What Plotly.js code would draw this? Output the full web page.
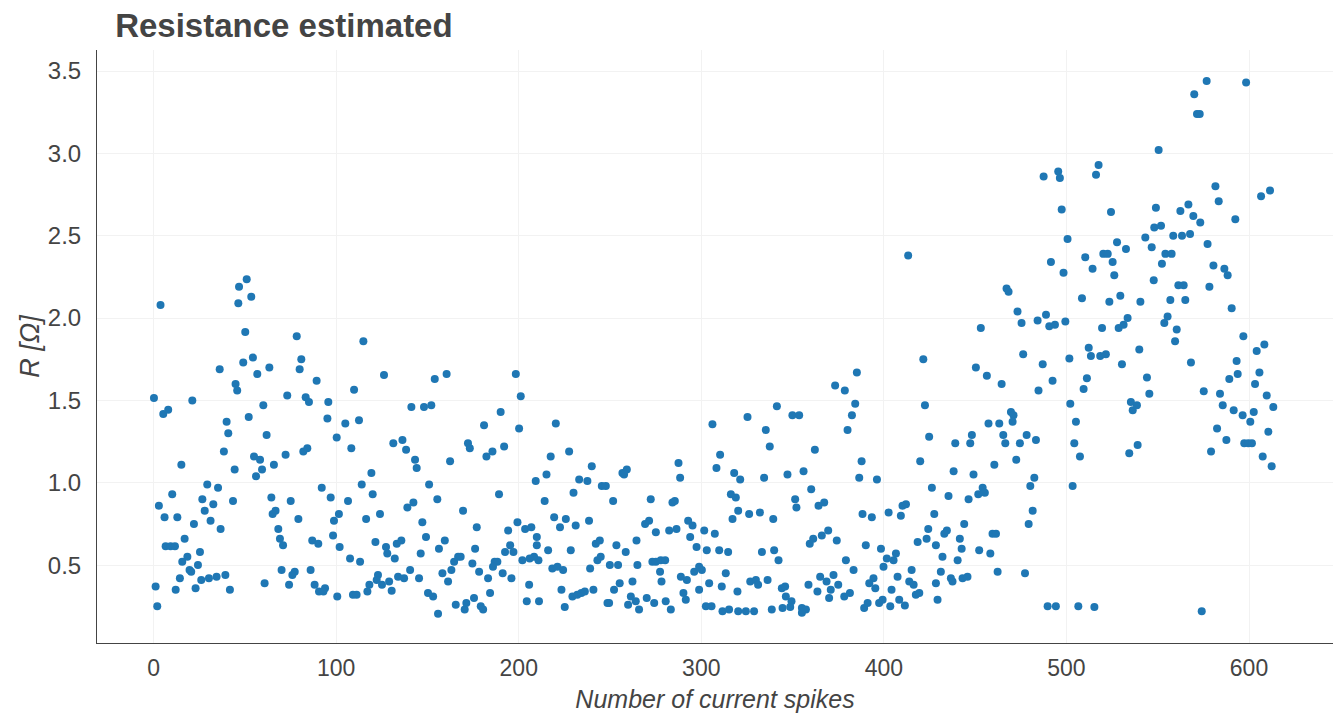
<!DOCTYPE html>
<html>
<head>
<meta charset="utf-8">
<script src="https://cdn.plot.ly/plotly-3.0.1.min.js"></script>
<style>html,body{margin:0;padding:0;background:#fff;}#chart{width:1339px;height:713px;}</style>
</head>
<body>
<div id="chart"></div>
<script>
// Spike number (x) for each estimate
const spikeNumber = [
 3.8,0.2,21.2,5.3,8.0,36.2,46.8,46.4,44.9,45.8,40.0,40.9,38.5,44.4,15.2,29.4,35.3,10.2,26.7,43.5,2.9,32.7,28.0,6.0,13.0,31.2,22.1,36.7,17.0,6.6,9.3,11.7,25.4,18.5,15.7,24.3,19.7,20.6,14.4,26.1,30.3,34.5,39.3,1.1,12.1,23.0,41.8,2.0,
 51.0,53.5,50.2,49.1,54.4,56.8,63.4,60.1,52.1,61.9,55.0,58.3,59.4,56.1,65.9,72.3,78.4,80.9,80.0,89.3,73.2,83.3,85.1,95.7,95.2,100.3,82.0,84.2,92.1,97.0,64.5,75.1,66.8,65.2,79.3,98.8,101.5,68.3,69.2,70.9,98.3,101.9,86.9,90.2,70.1,77.3,76.0,86.0,60.8,74.2,88.2,90.6,93.9,93.0,100.6,
 114.9,126.2,154.0,109.8,141.2,148.1,152.1,105.0,112.5,108.3,131.3,136.3,138.3,143.2,144.1,119.3,114.0,120.0,150.9,155.4,106.5,116.4,124.0,139.0,142.3,147.2,149.2,121.5,127.3,128.0,133.2,135.7,132.1,146.3,156.3,107.6,113.1,122.9,122.2,125.1,129.0,118.2,117.1,130.4,133.9,137.2,140.5,145.4,150.3,153.1,109.2,111.2,155.8,
 160.5,198.4,201.1,200.2,190.1,181.0,172.2,173.2,182.3,185.6,192.0,162.4,209.3,189.2,169.5,177.0,199.3,194.2,203.5,206.9,209.9,159.5,176.1,195.3,192.5,197.1,209.9,210.8,164.6,166.8,168.2,174.6,186.8,188.3,185.9,202.0,208.4,206.0,158.2,161.3,163.1,178.3,183.2,191.2,196.0,205.7,184.3,165.5,170.4,171.3,175.5,179.2,180.5,204.4,211.1,
 220.3,217.5,227.6,240.0,215.2,233.1,237.6,256.8,259.2,257.7,245.5,247.7,230.0,251.7,214.2,219.4,225.8,222.6,231.2,238.5,242.2,244.4,253.5,258.6,264.5,216.1,228.5,243.1,244.9,218.4,221.2,224.3,239.1,249.9,254.4,265.0,223.4,229.4,232.1,234.3,236.2,240.9,225.2,252.2,255.3,262.3,261.4,259.9,264.1,248.6,249.5,265.9,
 306.1,310.3,308.3,318.0,321.3,287.5,288.4,272.3,284.2,285.5,316.2,318.9,320.2,271.4,269.2,292.8,295.2,317.1,275.1,282.4,286.4,293.9,301.6,307.4,297.4,303.0,309.8,314.7,273.2,275.1,277.8,280.2,277.4,278.2,288.8,292.1,296.1,298.8,300.3,313.4,304.3,311.2,298.8,290.2,291.5,270.1,274.2,280.5,283.3,302.5,305.6,311.6,315.2,320.2,319.8,
 373.3,341.4,325.3,349.9,353.6,335.3,337.5,362.2,334.4,347.2,356.0,360.2,351.4,352.1,326.2,332.1,339.4,364.2,367.3,359.4,361.3,366.0,369.5,374.2,333.2,339.9,342.3,326.8,329.9,331.1,336.3,344.1,345.9,346.3,349.4,358.7,365.1,368.6,372.4,363.6,370.9,370.0,375.0,324.4,328.9,338.6,344.5,348.7,355.1,357.3,355.1,
 413.3,421.6,385.2,378.6,384.3,382.5,380.1,422.5,424.8,387.8,419.9,386.5,396.2,426.3,410.2,412.1,402.6,388.3,393.4,409.3,427.6,424.3,418.5,423.4,428.5,390.1,398.4,401.6,405.3,406.6,399.8,379.2,383.4,407.5,415.2,413.9,416.3,394.3,392.0,395.3,404.2,378.3,381.4,417.5,419.4,428.5,429.4,389.2,391.1,397.4,399.3,403.5,408.4,411.5,
 467.2,468.3,473.2,453.1,475.4,484.2,476.3,450.4,456.4,464.5,484.7,469.6,471.0,470.5,463.2,457.3,448.2,447.3,439.1,465.4,466.5,474.5,478.2,483.3,472.5,460.5,438.2,449.1,482.4,480.2,454.1,451.7,455.3,435.4,446.4,481.5,479.3,444.0,434.5,433.1,459.5,461.4,441.6,442.6,452.2,458.3,432.1,440.4,431.2,436.7,437.6,443.1,445.8,462.3,477.3,
 517.6,516.2,487.5,495.5,496.4,497.4,524.4,500.6,527.7,532.6,491.5,510.3,520.2,522.6,525.3,514.3,498.4,526.2,508.5,523.5,529.5,540.5,488.8,490.6,493.7,499.4,519.5,528.6,531.3,533.5,512.2,513.4,518.5,521.6,501.6,539.9,487.0,530.4,492.4,511.2,509.4,502.1,505.2,504.3,507.4,503.4,535.3,536.3,538.6,534.4,539.0,489.7,494.2,506.5,515.3,
 576.8,570.0,571.5,573.0,550.5,581.6,583.4,549.0,566.8,562.4,569.5,573.3,592.5,551.8,548.1,543.2,558.5,563.3,567.7,546.7,577.3,554.2,557.6,552.3,580.5,586.5,588.3,547.8,561.3,564.2,578.3,556.9,565.1,590.5,555.4,553.6,560.4,559.5,568.2,593.2,593.8,589.2,544.1,545.4,575.2,584.1,585.6,591.6,582.5,587.6,579.2,574.1,
 598.4,606.6,611.5,596.9,604.2,608.4,605.7,603.3,609.7,613.3,596.5,602.6,600.7,610.6,597.4,599.6,601.6,607.5,612.4
];
// Estimated resistance R [Ohm] for each point above
const resistance = [
 2.08,1.515,1.50,1.417,1.443,1.69,2.19,2.09,1.60,1.56,1.37,1.30,1.19,1.08,1.11,0.99,0.97,0.93,0.90,0.89,0.86,0.87,0.83,0.79,0.79,0.77,0.75,0.72,0.66,0.615,0.615,0.615,0.58,0.55,0.52,0.50,0.47,0.46,0.42,0.41,0.42,0.43,0.44,0.37,0.35,0.36,0.35,0.25,
 2.236,2.13,1.915,1.73,1.76,1.66,1.70,1.47,1.40,1.29,1.16,1.14,1.08,1.04,1.11,1.17,1.89,1.75,1.69,1.62,1.53,1.52,1.49,1.49,1.39,1.275,1.19,1.21,0.97,0.91,0.91,0.89,0.83,0.81,0.78,0.77,0.81,0.72,0.66,0.62,0.68,0.61,0.65,0.63,0.47,0.46,0.44,0.47,0.39,0.38,0.38,0.34,0.36,0.34,0.31,
 1.86,1.655,1.63,1.565,1.46,1.46,1.47,1.36,1.38,1.21,1.24,1.26,1.20,1.14,1.09,1.06,0.99,0.93,0.99,0.90,0.89,0.78,0.81,0.85,0.88,0.76,0.67,0.64,0.61,0.57,0.63,0.65,0.54,0.57,0.60,0.54,0.52,0.44,0.41,0.38,0.40,0.38,0.34,0.345,0.43,0.42,0.47,0.42,0.33,0.31,0.32,0.32,0.205,
 1.66,1.66,1.525,1.33,1.43,1.35,1.24,1.21,1.16,1.19,1.22,1.13,1.01,0.93,0.83,0.73,0.76,0.71,0.72,0.73,0.67,0.65,0.60,0.62,0.58,0.58,0.62,0.53,0.52,0.55,0.55,0.51,0.52,0.52,0.49,0.53,0.55,0.54,0.45,0.40,0.47,0.46,0.42,0.45,0.42,0.38,0.33,0.26,0.23,0.27,0.30,0.25,0.23,0.28,0.28,
 1.36,1.16,1.19,1.10,1.05,1.02,1.01,1.06,1.08,1.05,0.98,0.98,0.94,0.89,0.89,0.79,0.78,0.73,0.74,0.77,0.63,0.65,0.62,0.58,0.65,0.59,0.59,0.53,0.55,0.48,0.49,0.47,0.48,0.50,0.50,0.50,0.35,0.31,0.32,0.33,0.34,0.35,0.245,0.35,0.39,0.40,0.31,0.26,0.28,0.27,0.27,0.23,
 1.356,1.17,1.09,1.06,1.02,1.12,1.03,0.90,0.88,0.89,0.93,0.91,0.83,0.77,0.75,0.77,0.74,0.78,0.70,0.71,0.72,0.67,0.71,0.69,0.61,0.59,0.59,0.58,0.52,0.52,0.53,0.53,0.46,0.40,0.43,0.41,0.46,0.49,0.47,0.45,0.39,0.37,0.35,0.33,0.29,0.30,0.27,0.28,0.23,0.25,0.25,0.22,0.23,0.22,0.34,
 1.59,1.465,1.40,1.41,1.41,1.32,1.22,1.20,1.03,1.05,1.07,0.96,0.90,0.85,0.81,0.82,0.78,0.86,0.88,0.63,0.66,0.68,0.71,0.65,0.58,0.59,0.53,0.40,0.41,0.38,0.41,0.36,0.37,0.31,0.28,0.38,0.43,0.40,0.44,0.34,0.35,0.30,0.38,0.22,0.22,0.23,0.24,0.245,0.24,0.23,0.21,
 2.38,1.75,1.67,1.56,1.48,1.41,1.32,1.47,1.28,1.13,1.13,1.03,1.02,0.97,0.86,0.87,0.82,0.81,0.79,0.80,0.81,0.72,0.64,0.66,0.62,0.62,0.60,0.54,0.53,0.57,0.49,0.53,0.47,0.43,0.47,0.40,0.38,0.42,0.39,0.36,0.35,0.31,0.33,0.32,0.33,0.39,0.29,0.24,0.27,0.27,0.29,0.25,0.29,0.255,
 2.18,2.16,2.04,1.94,1.97,1.985,1.78,1.70,1.65,1.60,1.56,1.43,1.41,1.37,1.36,1.36,1.29,1.24,1.24,1.29,1.24,1.24,1.29,1.26,1.14,1.11,1.07,1.05,1.03,0.98,0.97,0.93,0.94,0.92,0.90,0.83,0.75,0.75,0.71,0.69,0.69,0.69,0.66,0.60,0.59,0.57,0.55,0.53,0.46,0.42,0.40,0.42,0.43,0.46,0.45,
 2.93,2.87,2.86,2.89,2.85,2.66,2.645,2.48,2.46,2.42,2.34,2.37,2.39,2.39,2.34,2.30,2.275,2.26,2.12,2.10,2.135,2.10,2.02,1.95,1.96,1.98,1.94,1.94,1.96,2.00,1.82,1.77,1.77,1.78,1.755,1.81,1.72,1.72,1.62,1.635,1.57,1.48,1.37,1.24,1.16,0.98,1.49,1.44,1.47,1.18,1.23,0.25,0.25,0.25,0.245,
 3.44,3.36,3.24,3.24,3.02,2.80,2.71,2.67,2.69,2.65,2.62,2.58,2.60,2.56,2.55,2.49,2.50,2.50,2.51,2.43,2.45,2.39,2.39,2.33,2.32,2.30,2.26,2.23,2.20,2.20,2.19,2.11,2.11,2.06,2.01,1.97,1.93,1.86,1.73,1.74,1.66,1.63,1.64,1.54,1.555,1.54,1.47,1.44,1.33,1.26,1.19,0.22,
 3.43,2.74,2.775,1.89,1.80,1.84,1.67,1.60,1.53,1.46,1.41,1.43,1.37,1.31,1.24,1.24,1.24,1.16,1.10
];

const xTickValues = [0, 100, 200, 300, 400, 500, 600];
const yTickValues = [0.5, 1.0, 1.5, 2.0, 2.5, 3.0, 3.5];
const yTickLabels = ['0.5', '1.0', '1.5', '2.0', '2.5', '3.0', '3.5'];

const FONT = 'Liberation Sans, Arial, Helvetica, sans-serif';

const trace = {
  type: 'scatter',
  mode: 'markers',
  x: spikeNumber,
  y: resistance,
  marker: {color: '#1f77b4', size: 8, line: {width: 0}},
  showlegend: false,
  hoverinfo: 'x+y'
};

const layout = {
  width: 1339,
  height: 713,
  margin: {l: 97, r: 6, t: 50, b: 70, pad: 0},
  paper_bgcolor: '#ffffff',
  plot_bgcolor: '#ffffff',
  font: {family: FONT, color: '#444444', size: 23},
  title: {
    text: '<b>Resistance estimated</b>',
    font: {family: FONT, size: 33, color: '#444444'},
    xref: 'container', yref: 'container',
    x: 0.086, xanchor: 'left',
    y: 0.964, yanchor: 'middle'
  },
  xaxis: {
    range: [-31, 646],
    tickvals: xTickValues,
    ticktext: xTickValues.map(String),
    showgrid: true,
    gridcolor: '#f2f2f2',
    gridwidth: 1,
    zeroline: false,
    showline: true,
    linecolor: '#444444',
    linewidth: 1,
    ticks: 'outside',
    ticklen: 4,
    tickcolor: 'rgba(0,0,0,0)',
    tickfont: {family: FONT, size: 23, color: '#444444'},
    title: {text: '<i>Number of current spikes</i>', font: {family: FONT, size: 25, color: '#444444'}, standoff: 10}
  },
  yaxis: {
    range: [0.027, 3.628],
    tickvals: yTickValues,
    ticktext: yTickLabels,
    showgrid: true,
    gridcolor: '#f2f2f2',
    gridwidth: 1,
    zeroline: false,
    showline: true,
    linecolor: '#444444',
    linewidth: 1,
    ticks: 'outside',
    ticklen: 10,
    tickcolor: 'rgba(0,0,0,0)',
    tickfont: {family: FONT, size: 24, color: '#444444'},
    title: {text: '<i>R [Ω]</i>', font: {family: FONT, size: 27, color: '#444444'}, standoff: 0}
  }
};

Plotly.newPlot('chart', [trace], layout, {displayModeBar: false, staticPlot: true});
</script>
</body>
</html>
